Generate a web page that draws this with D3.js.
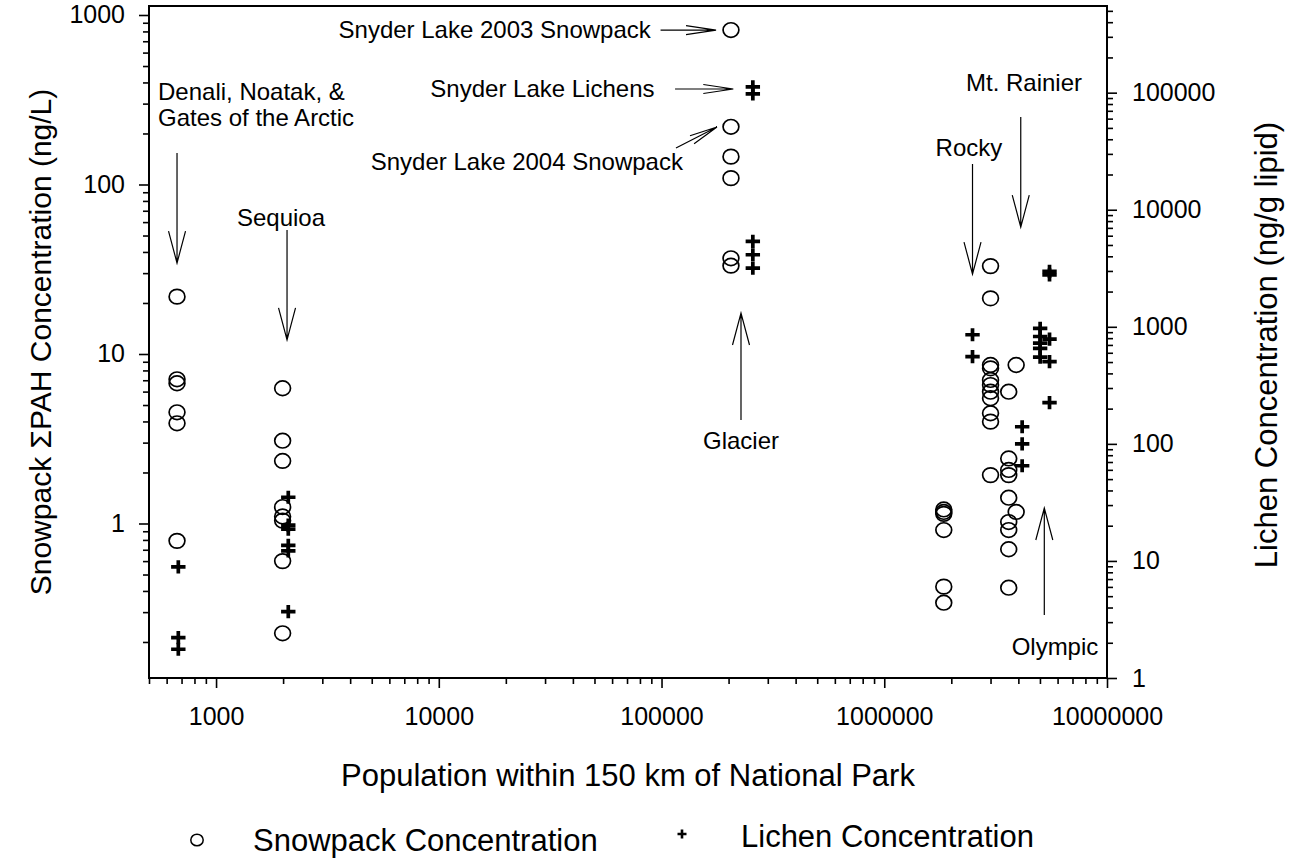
<!DOCTYPE html>
<html>
<head>
<meta charset="utf-8">
<script src="https://cdn.jsdelivr.net/npm/d3@7/dist/d3.min.js"></script>
<style>
  html, body { margin: 0; padding: 0; background: #fff; }
  svg { display: block; font-family: Arial, "Liberation Sans", sans-serif; }
  text { fill: #000; }
</style>
</head>
<body>
<svg id="chart" width="1291" height="865"></svg>
<script>
// Population within 150 km of each park (x) and snowpack ΣPAH, ng/L (left axis)
const snowPopulation = [668, 1990, 205000, 1850000, 3000000, 3620000, 3910000];
const snowPAH = [
  [21.8, 7.09, 6.72, 4.53, 3.90, 0.79],
  [6.28, 3.08, 2.34, 1.25, 1.10, 1.04, 0.60, 0.225],
  [815, 219, 146, 109, 36.7, 33.2],
  [1.21, 1.17, 1.14, 0.915, 0.424, 0.341],
  [33.0, 21.3, 8.61, 8.23, 7.03, 6.56, 5.99, 5.48, 4.47, 3.99, 1.93],
  [5.99, 2.42, 2.07, 1.93, 1.42, 1.02, 0.915, 0.705, 0.418],
  [8.61, 1.17]
];

// Lichen PAH, ng/g lipid (right axis)
const lichenPopulation = [677, 2110, 257000, 2490000, 4160000, 5010000, 5520000];
const lichenPAH = [
  [8.9, 2.21, 1.76],
  [35.0, 20.2, 18.7, 13.6, 12.2, 3.69],
  [112000, 97500, 5360, 4125, 3175],
  [855, 557],
  [140, 100, 65],
  [968, 826, 724, 655, 551],
  [2970, 2780, 785, 505, 225]
];

// Axis tick labels
const xTickValues = [1000, 10000, 100000, 1000000, 10000000];
const leftTickValues = [1, 10, 100, 1000];
const rightTickValues = [1, 10, 100, 1000, 10000, 100000];

const xDomain = [500, 1e7];
const leftDomain = [0.1226, 1130];
const rightDomain = [1, 5.5e5];

const svg = d3.select("#chart");
const plot = { left: 149, right: 1107, top: 6, bottom: 678 };

const x = d3.scaleLog().domain(xDomain).range([plot.left, plot.right]);
const yL = d3.scaleLog().domain(leftDomain).range([plot.bottom, plot.top]);
const yR = d3.scaleLog().domain(rightDomain).range([plot.bottom, plot.top]);

// minor ticks at 2..9 × each decade inside a domain
function minorTicks(domain) {
  const out = [];
  const lo = Math.floor(Math.log10(domain[0])), hi = Math.ceil(Math.log10(domain[1]));
  for (let e = lo; e <= hi; e++) {
    for (let m = 2; m <= 9; m++) {
      const v = m * Math.pow(10, e);
      if (v >= domain[0] && v <= domain[1]) out.push(v);
    }
  }
  return out;
}

const tickFont = 25;
function styleAxis(g) {
  g.select(".domain").remove();
  g.selectAll(".tick line").attr("stroke", "#000").attr("stroke-width", 1.6);
  g.selectAll(".tick text").attr("font-size", tickFont).attr("fill", "#000");
}

// bottom axis
svg.append("g").attr("transform", `translate(0,${plot.bottom})`)
  .call(d3.axisBottom(x).tickValues(minorTicks(xDomain)).tickSize(6).tickFormat(""))
  .call(styleAxis);
svg.append("g").attr("transform", `translate(0,${plot.bottom})`)
  .call(d3.axisBottom(x).tickValues(xTickValues).tickSize(10).tickPadding(19).tickFormat(d3.format("d")))
  .call(styleAxis);

// left axis
svg.append("g").attr("transform", `translate(${plot.left},0)`)
  .call(d3.axisLeft(yL).tickValues(minorTicks(leftDomain)).tickSize(6).tickFormat(""))
  .call(styleAxis);
svg.append("g").attr("transform", `translate(${plot.left},0)`)
  .call(d3.axisLeft(yL).tickValues(leftTickValues).tickSize(10).tickPadding(14).tickFormat(d3.format("d")))
  .call(styleAxis);

// right axis
svg.append("g").attr("transform", `translate(${plot.right},0)`)
  .call(d3.axisRight(yR).tickValues(minorTicks(rightDomain)).tickSize(6).tickFormat(""))
  .call(styleAxis);
svg.append("g").attr("transform", `translate(${plot.right},0)`)
  .call(d3.axisRight(yR).tickValues(rightTickValues).tickSize(10).tickPadding(15).tickFormat(d3.format("d")))
  .call(styleAxis);

// frame
svg.append("rect")
  .attr("x", plot.left).attr("y", plot.top)
  .attr("width", plot.right - plot.left).attr("height", plot.bottom - plot.top)
  .attr("fill", "none").attr("stroke", "#000").attr("stroke-width", 2);

// snowpack points: open circles
const snowPoints = snowPopulation.flatMap((p, i) => snowPAH[i].map(v => ({ p, v })));
svg.append("g").selectAll("ellipse").data(snowPoints).join("ellipse")
  .attr("cx", d => x(d.p)).attr("cy", d => yL(d.v)).attr("rx", 7.9).attr("ry", 7.3)
  .attr("fill", "none").attr("stroke", "#000").attr("stroke-width", 1.7);

// lichen points: bold plus signs
const lichenPoints = lichenPopulation.flatMap((p, i) => lichenPAH[i].map(v => ({ p, v })));
const plusPath = (cx, cy, w, h) => `M${cx - w},${cy}H${cx + w}M${cx},${cy - h}V${cy + h}`;
svg.append("g").selectAll("path").data(lichenPoints).join("path")
  .attr("d", d => plusPath(x(d.p), yR(d.v), 7.2, 6.6))
  .attr("fill", "none").attr("stroke", "#000").attr("stroke-width", 3.7);

// annotation arrows (open heads), positions given in population / concentration units
function arrow(g, x1, y1, x2, y2, len, half) {
  const a = Math.atan2(y2 - y1, x2 - x1);
  const bx = x2 - len * Math.cos(a), by = y2 - len * Math.sin(a);
  const nx = -Math.sin(a) * half, ny = Math.cos(a) * half;
  g.append("path")
    .attr("d", `M${x1},${y1}L${x2},${y2}M${bx + nx},${by + ny}L${x2},${y2}L${bx - nx},${by - ny}`)
    .attr("fill", "none").attr("stroke", "#000").attr("stroke-width", 1.2);
}
const ann = svg.append("g").attr("font-size", 24);

// park labels with vertical arrows
const parkArrows = [
  { pop: 668, from: 153.4, to: 34.4 },      // Denali, Noatak, & Gates of the Arctic
  { pop: 2083, from: 53.9, to: 12.1 },      // Sequoia
  { pop: 227400, from: 4.08, to: 17.46 },   // Glacier
  { pop: 2.49e6, from: 132, to: 29.6 },     // Rocky
  { pop: 4.10e6, from: 250, to: 56.1 },     // Mt. Rainier
  { pop: 5.23e6, from: 0.2885, to: 1.234 }  // Olympic
];
parkArrows.forEach(d => arrow(ann, x(d.pop), yL(d.from), x(d.pop), yL(d.to), 32, 8.5));

const parkLabels = [
  { text: "Sequioa", pop: 1957, val: 64.0 },
  { text: "Glacier", pop: 227400, val: 3.07 },
  { text: "Rocky", pop: 2.40e6, val: 166 },
  { text: "Mt. Rainier", pop: 4.24e6, val: 397 },
  { text: "Olympic", pop: 5.84e6, val: 0.1868 }
];
parkLabels.forEach(d => ann.append("text")
  .attr("x", x(d.pop)).attr("y", yL(d.val)).attr("dy", "0.35em")
  .attr("text-anchor", "middle").text(d.text));

const denali = ann.append("text").attr("x", x(549)).attr("y", yL(351)).attr("dy", "0.35em");
denali.append("tspan").text("Denali, Noatak, &");
denali.append("tspan").attr("x", x(549)).attr("dy", 26).text("Gates of the Arctic");

// Snyder Lake callouts
ann.append("text").attr("x", x(89500)).attr("y", yL(815)).attr("dy", "0.35em")
  .attr("text-anchor", "end").text("Snyder Lake 2003 Snowpack");
arrow(ann, x(99000), yL(815), x(175700), yL(815), 30, 4.5);

ann.append("text").attr("x", x(93000)).attr("y", yR(107500)).attr("dy", "0.35em")
  .attr("text-anchor", "end").text("Snyder Lake Lichens");
arrow(ann, x(115000), yR(107500), x(210000), yR(107500), 30, 4.5);

ann.append("text").attr("x", x(124800)).attr("y", yL(135.7)).attr("dy", "0.35em")
  .attr("text-anchor", "end").text("Snyder Lake 2004 Snowpack");
arrow(ann, x(116100), yL(164.2), x(177400), yL(218.3), 28, 4.5);

// axis titles
svg.append("text").attr("x", (plot.left + plot.right) / 2).attr("y", 775).attr("dy", "0.35em")
  .attr("text-anchor", "middle").attr("font-size", 31)
  .text("Population within 150 km of National Park");
svg.append("text").attr("transform", "translate(40,342) rotate(-90)").attr("dy", "0.35em")
  .attr("text-anchor", "middle").attr("font-size", 30)
  .text("Snowpack ΣPAH Concentration (ng/L)");
svg.append("text").attr("transform", "translate(1266,345) rotate(-90)").attr("dy", "0.35em")
  .attr("text-anchor", "middle").attr("font-size", 31)
  .text("Lichen Concentration (ng/g lipid)");

// legend
const legend = svg.append("g").attr("font-size", 31);
legend.append("ellipse").attr("cx", 197).attr("cy", 840).attr("rx", 6.2).attr("ry", 5.8)
  .attr("fill", "none").attr("stroke", "#000").attr("stroke-width", 1.5);
legend.append("text").attr("x", 253).attr("y", 840).attr("dy", "0.35em").text("Snowpack Concentration");
legend.append("path").attr("d", plusPath(682, 834, 4.5, 4.5))
  .attr("stroke", "#000").attr("stroke-width", 2.6).attr("fill", "none");
legend.append("text").attr("x", 741).attr("y", 836).attr("dy", "0.35em").text("Lichen Concentration");
</script>
</body>
</html>
